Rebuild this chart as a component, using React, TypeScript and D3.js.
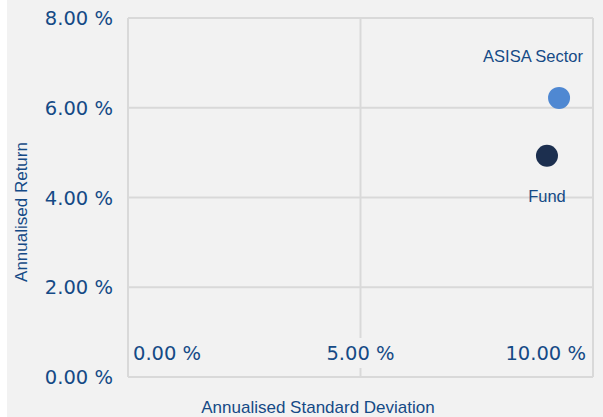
import React from "react";
import * as d3 from "d3";

const seriesNames = ["ASISA Sector", "Fund"];
const stdDev = [9.27, 9.01];
const returns = [6.22, 4.93];
const colors = ["#4f88d2", "#1c2f4f"];
const yTicks = [0, 2, 4, 6, 8];
const xTicks = [0, 5, 10];

const W = 603, H = 417;
const L = 128, R = 593, T = 18, B = 377;
const txt = "#154a86";

export default function App() {
  const x = d3.scaleLinear().domain([0, 10]).range([L, R]);
  const y = d3.scaleLinear().domain([0, 8]).range([B, T]);
  const fmt = (v: number) => v.toFixed(2) + " %";
  return (
    <svg width={W} height={H} style={{ position: "absolute", left: 0, top: 0 }}>
      <rect x={0} y={0} width={W} height={H} fill="#ffffff" />
      <rect x={7} y={0} width={W - 7} height={H} fill="#f2f2f2" />
      {yTicks.map((t) => (
        <line key={"yg" + t} x1={L} x2={R} y1={y(t)} y2={y(t)} stroke="#d9d9d9" strokeWidth={2} />
      ))}
      {xTicks.map((t) => (
        <line key={"xg" + t} x1={x(t)} x2={x(t)} y1={T} y2={B} stroke="#d9d9d9" strokeWidth={2} />
      ))}
      {yTicks.map((t) => (
        <text key={"yl" + t} x={113} y={y(t)} dy="0.36em" textAnchor="end" fontFamily="DejaVu Sans" fontSize={19.5} fill={txt}>
          {fmt(t)}
        </text>
      ))}
      {xTicks.map((t, i) => {
        const anchor = i === 0 ? "start" : i === xTicks.length - 1 ? "end" : "middle";
        const xx = i === 0 ? x(t) + 5 : i === xTicks.length - 1 ? x(t) - 7 : x(t);
        const w = 72;
        const rx = anchor === "start" ? xx - 2 : anchor === "end" ? xx - w - 8 : xx - w / 2 - 2;
        return (
          <g key={"xl" + t}>
            <rect x={rx} y={338} width={w + 6} height={30} fill="#f2f2f2" />
            <text x={xx} y={353} dy="0.36em" textAnchor={anchor} fontFamily="DejaVu Sans" fontSize={19.5} fill={txt}>
              {fmt(t)}
            </text>
          </g>
        );
      })}
      {seriesNames.map((n, i) => (
        <circle key={n} cx={x(stdDev[i])} cy={y(returns[i])} r={11} fill={colors[i]} />
      ))}
      <text x={x(stdDev[0]) - 26} y={y(returns[0]) - 36} textAnchor="middle" fontFamily="Liberation Sans, Arial" fontSize={16.5} fill={txt}>
        {seriesNames[0]}
      </text>
      <text x={x(stdDev[1])} y={y(returns[1]) + 46} textAnchor="middle" fontFamily="Liberation Sans, Arial" fontSize={16.5} fill={txt}>
        {seriesNames[1]}
      </text>
      <text x={318} y={413} textAnchor="middle" fontFamily="Liberation Sans, Arial" fontSize={17} fill={txt}>
        Annualised Standard Deviation
      </text>
      <text transform={`translate(27,${212}) rotate(-90)`} textAnchor="middle" fontFamily="Liberation Sans, Arial" fontSize={17} fill={txt}>
        Annualised Return
      </text>
    </svg>
  );
}
